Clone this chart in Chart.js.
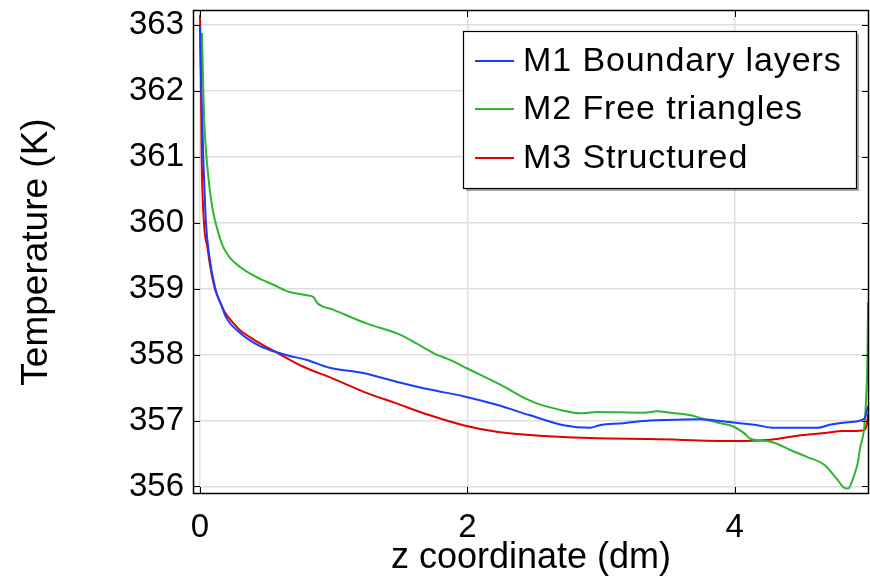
<!DOCTYPE html>
<html>
<head>
<meta charset="utf-8">
<script src="https://cdn.jsdelivr.net/npm/chart.js@4.4.0/dist/chart.umd.min.js"></script>
<style>
  html, body { margin: 0; padding: 0; background: #fff; }
</style>
</head>
<body>
<canvas id="tempChart" width="870" height="580"></canvas>
<script>
// temperature along z for the three meshes
const seriesLabels = ['M1 Boundary layers', 'M2 Free triangles', 'M3 Structured'];
const seriesColors = ['#1a3cff', '#2db52d', '#e00000'];

const m1Z = [0, 0.01, 0.025, 0.045, 0.07, 0.115, 0.16, 0.2, 0.3, 0.45, 0.6, 0.67, 0.8, 0.97, 1.22, 1.47, 1.72, 1.97, 2.22, 2.47, 2.72, 2.92, 2.99, 3.17, 3.29, 3.49, 3.74, 3.99, 4.17, 4.29, 4.62, 4.72, 4.87, 4.97, 4.998];
const m1T = [363.0, 362.0, 361.0, 360.0, 359.5, 359.0, 358.75, 358.55, 358.33, 358.13, 358.02, 357.98, 357.92, 357.8, 357.72, 357.59, 357.47, 357.37, 357.24, 357.08, 356.93, 356.89, 356.93, 356.96, 356.99, 357.01, 357.02, 356.97, 356.93, 356.89, 356.89, 356.94, 356.98, 357.03, 357.22];

const m2Z = [0.015, 0.025, 0.033, 0.045, 0.06, 0.08, 0.1, 0.13, 0.17, 0.22, 0.3, 0.42, 0.55, 0.67, 0.8, 0.85, 0.88, 1.0, 1.25, 1.5, 1.62, 1.75, 1.87, 2.0, 2.25, 2.45, 2.52, 2.72, 2.84, 2.97, 3.32, 3.42, 3.52, 3.67, 3.74, 3.87, 3.99, 4.07, 4.12, 4.27, 4.42, 4.54, 4.67, 4.77, 4.82, 4.85, 4.89, 4.92, 4.94, 4.97, 4.985, 4.993, 4.998];
const m2T = [362.88, 362.0, 361.5, 361.1, 360.75, 360.4, 360.15, 359.9, 359.65, 359.48, 359.33, 359.18, 359.06, 358.95, 358.9, 358.87, 358.78, 358.68, 358.47, 358.3, 358.17, 358.02, 357.92, 357.79, 357.54, 357.32, 357.26, 357.15, 357.11, 357.13, 357.12, 357.14, 357.12, 357.08, 357.04, 356.97, 356.91, 356.81, 356.72, 356.68, 356.55, 356.45, 356.33, 356.1, 355.98, 355.97, 356.15, 356.35, 356.6, 356.91, 357.41, 357.9, 358.8];

const m3Z = [0, 0.002, 0.008, 0.013, 0.03, 0.055, 0.08, 0.112, 0.15, 0.19, 0.24, 0.3, 0.37, 0.45, 0.585, 0.77, 0.99, 1.22, 1.47, 1.72, 1.97, 2.22, 2.47, 2.72, 2.97, 3.37, 3.99, 4.27, 4.47, 4.67, 4.81, 4.96, 4.99, 4.998];
const m3T = [363.15, 363.0, 362.0, 361.0, 360.0, 359.64, 359.3, 359.0, 358.8, 358.63, 358.5, 358.37, 358.27, 358.17, 358.02, 357.82, 357.64, 357.44, 357.26, 357.08, 356.93, 356.83, 356.78, 356.75, 356.73, 356.72, 356.69, 356.71, 356.77, 356.81, 356.84, 356.85, 356.96, 357.1];

const zTicks = [0, 2, 4];
const tTicks = [356, 357, 358, 359, 360, 361, 362, 363];

const FONT = 'Liberation Sans, Arial, Helvetica, sans-serif';

function toPoints(xs, ys) {
  return xs.map((x, i) => ({ x: x, y: ys[i] }));
}

// frame, inward tick marks and boxed legend
const framePlugin = {
  id: 'framePlugin',
  afterDatasetsDraw(chart) {
    const ctx = chart.ctx;
    const a = chart.chartArea;
    const xs = chart.scales.x;
    const ys = chart.scales.y;
    const len = 7;
    ctx.save();
    ctx.strokeStyle = '#000';
    ctx.lineWidth = 1;
    ctx.beginPath();
    tTicks.forEach((v) => {
      const py = Math.round(ys.getPixelForValue(v)) + 0.5;
      ctx.moveTo(a.left, py); ctx.lineTo(a.left + len, py);
      ctx.moveTo(a.right, py); ctx.lineTo(a.right - len, py);
    });
    zTicks.forEach((v) => {
      const px = Math.round(xs.getPixelForValue(v)) + 0.5;
      ctx.moveTo(px, a.bottom); ctx.lineTo(px, a.bottom - len);
      ctx.moveTo(px, a.top); ctx.lineTo(px, a.top + len);
    });
    ctx.stroke();
    ctx.lineWidth = 1.5;
    ctx.strokeRect(a.left + 0.5, a.top + 0.5, a.right - a.left - 1, a.bottom - a.top - 1);

    // legend box
    const bx = 463, by = 31, bw = 393, bh = 157;
    ctx.fillStyle = 'rgba(0,0,0,0.35)';
    ctx.fillRect(bx + 3, by + 3, bw, bh);
    ctx.fillStyle = '#fff';
    ctx.fillRect(bx, by, bw, bh);
    ctx.lineWidth = 1.2;
    ctx.strokeStyle = '#000';
    ctx.strokeRect(bx + 0.5, by + 0.5, bw, bh);
    const rows = [61, 109, 158];
    ctx.font = '34px ' + FONT;
    ctx.letterSpacing = '0.9px';
    ctx.textBaseline = 'middle';
    ctx.textAlign = 'left';
    chart.data.datasets.forEach((ds, i) => {
      ctx.strokeStyle = ds.borderColor;
      ctx.lineWidth = 2;
      ctx.beginPath();
      ctx.moveTo(475, rows[i]); ctx.lineTo(514, rows[i]);
      ctx.stroke();
      ctx.fillStyle = '#000';
      ctx.fillText(ds.label, 523, rows[i] + 1);
    });
    ctx.restore();
  }
};

new Chart(document.getElementById('tempChart'), {
  type: 'line',
  data: {
    datasets: [
      { label: seriesLabels[0], data: toPoints(m1Z, m1T), borderColor: seriesColors[0] },
      { label: seriesLabels[1], data: toPoints(m2Z, m2T), borderColor: seriesColors[1] },
      { label: seriesLabels[2], data: toPoints(m3Z, m3T), borderColor: seriesColors[2] }
    ]
  },
  options: {
    responsive: false,
    animation: false,
    devicePixelRatio: 1,
    layout: { padding: { top: 10, right: 1, left: 0, bottom: 0 } },
    elements: {
      point: { radius: 0 },
      line: { borderWidth: 2, cubicInterpolationMode: 'monotone' }
    },
    plugins: {
      legend: { display: false },
      tooltip: { enabled: false }
    },
    scales: {
      x: {
        type: 'linear',
        min: -0.052,
        max: 5.005,
        afterFit: (axis) => {
          axis.height = 86;
          axis.paddingLeft = 0;
          axis.paddingRight = 0;
        },
        afterBuildTicks: (axis) => { axis.ticks = zTicks.map((v) => ({ value: v })); },
        grid: { color: '#dedede', lineWidth: 1.5, drawTicks: false },
        border: { display: false },
        ticks: { color: '#000', padding: 14, font: { family: FONT, size: 33 } },
        title: {
          display: true,
          text: 'z coordinate (dm)',
          color: '#000',
          font: { family: FONT, size: 36 },
          padding: { top: 0, bottom: 0 }
        }
      },
      y: {
        min: 355.886,
        max: 363.228,
        afterFit: (axis) => {
          axis.width = 193;
          axis.paddingTop = 0;
          axis.paddingBottom = 0;
        },
        afterBuildTicks: (axis) => { axis.ticks = tTicks.map((v) => ({ value: v })); },
        grid: { color: '#dedede', lineWidth: 1.5, drawTicks: false },
        border: { display: false },
        ticks: { color: '#000', padding: 9, font: { family: FONT, size: 33 } },
        title: {
          display: true,
          text: 'Temperature (K)',
          color: '#000',
          font: { family: FONT, size: 37 },
          padding: { top: 15, bottom: 0 }
        }
      }
    }
  },
  plugins: [framePlugin]
});
</script>
</body>
</html>
